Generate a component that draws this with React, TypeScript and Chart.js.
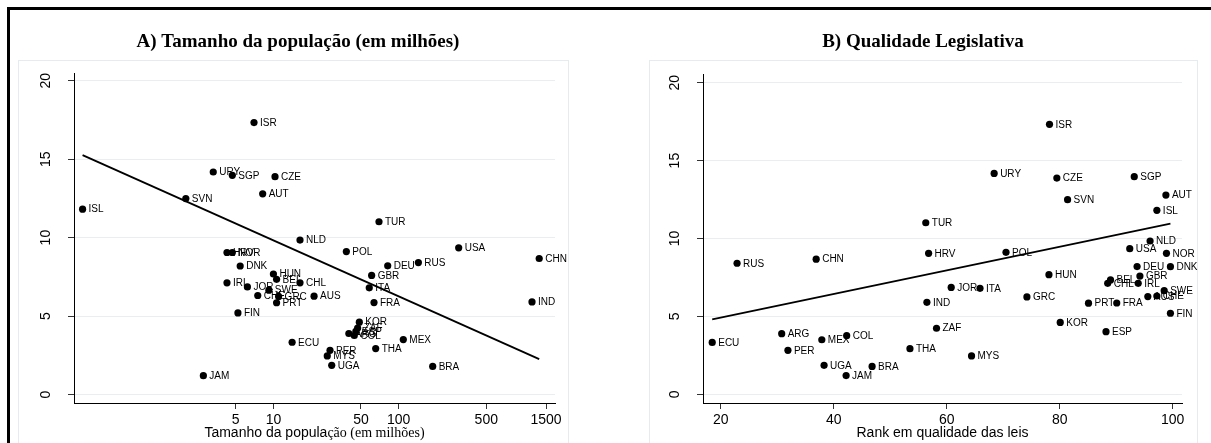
import React, { useEffect, useRef } from 'react';
import { Chart, registerables } from 'chart.js';

Chart.register(...registerables);

// ---------------- data ----------------
const countries = ['ISR','URY','CZE','SGP','AUT','SVN','ISL','TUR','NLD','USA','HRV','POL','NOR','DEU','DNK','RUS','CHN','HUN','GBR','BEL','CHL','IRL','JOR','ITA','SWE','AUS','CHE','GRC','IND','PRT','FRA','FIN','KOR','ZAF','ESP','ARG','COL','MEX','ECU','THA','PER','MYS','UGA','BRA','JAM'];
const quality = [17.33,14.18,13.88,13.97,12.79,12.49,11.81,11.01,9.84,9.35,9.05,9.11,9.05,8.2,8.19,8.41,8.67,7.68,7.59,7.34,7.12,7.12,6.86,6.8,6.65,6.27,6.31,6.25,5.9,5.85,5.86,5.2,4.61,4.24,4.02,3.89,3.76,3.5,3.33,2.93,2.82,2.46,1.86,1.79,1.2];
const population = [7.0,3.31,10.3,4.7,8.21,2.0,0.30,69.6,16.3,301,4.26,38.2,4.7,81.7,5.43,143.5,1322,10.0,60.8,10.6,16.3,4.26,6.2,58.2,9.2,21.1,7.5,11.0,1158,10.6,63.5,5.21,48.5,47,45.5,40,44.2,108.8,14.1,65.5,28.3,26.9,29.2,186.7,2.76];
const lawRank = [78.2,68.4,79.5,93.2,98.8,81.4,97.2,56.3,96.0,92.4,56.8,70.5,98.9,93.7,99.6,22.9,36.9,78.1,94.2,89.0,88.5,93.9,60.8,65.9,98.5,95.6,97.2,74.2,56.5,85.1,90.1,99.6,80.1,58.2,88.2,30.8,42.3,37.9,18.5,53.5,31.9,64.4,38.3,46.8,42.2];
const fitPopX = [0.30, 1322];
const fitPopY = [15.26, 2.26];
const fitRankX = [18.5, 99.6];
const fitRankY = [4.81, 10.95];
const yTicks = [0, 5, 10, 15, 20];
const popTicks = [5, 10, 50, 100, 500, 1500];
const rankTicks = [20, 40, 60, 80, 100];
const titleA = 'A) Tamanho da população (em milhões)';
const titleB = 'B) Qualidade Legislativa';
const xTitleA = ['Tamanho da popula', 'ção (em milhões)'];
const xTitleB = 'Rank em qualidade das leis';

const SANS = '"Liberation Sans", Arial, sans-serif';
const SERIF = '"Liberation Serif", "Times New Roman", serif';

const textPlugin = {
  id: 'stataText',
  afterDraw(chart: any, _args: any, o: any) {
    const ctx = chart.ctx;
    const xs = chart.scales.x;
    const ys = chart.scales.y;
    const area = chart.chartArea;
    ctx.save();
    ctx.fillStyle = '#000';
    // marker labels
    ctx.font = `10px ${SANS}`;
    ctx.textAlign = 'left';
    ctx.textBaseline = 'middle';
    const meta = chart.getDatasetMeta(0);
    meta.data.forEach((el: any, i: number) => ctx.fillText(o.labels[i], el.x + 6, el.y + 0.5));
    // y tick labels (vertical)
    ctx.font = `14px ${SANS}`;
    ctx.textAlign = 'center';
    o.yTicks.forEach((v: number) => {
      const y = ys.getPixelForValue(v);
      ctx.save();
      ctx.translate(area.left - 27.5, y);
      ctx.rotate(-Math.PI / 2);
      ctx.fillText(String(v), 0, 0);
      ctx.restore();
    });
    // x tick labels
    o.xTicks.forEach((v: number) => ctx.fillText(String(v), xs.getPixelForValue(v), area.bottom + 17.5));
    // x title
    const parts: [string, string][] = o.xTitle;
    let total = 0;
    parts.forEach((p) => { ctx.font = p[1]; total += ctx.measureText(p[0]).width; });
    let x = (area.left + area.right) / 2 - total / 2;
    ctx.textAlign = 'left';
    parts.forEach((p) => { ctx.font = p[1]; ctx.fillText(p[0], x, area.bottom + 30); x += ctx.measureText(p[0]).width; });
    // panel title
    ctx.font = `bold 19px ${SERIF}`;
    ctx.textAlign = 'center';
    ctx.fillText(o.title, o.titleX, o.titleY);
    ctx.restore();
  },
};

function makeConfig(opts: any): any {
  return {
    type: 'scatter',
    data: {
      datasets: [
        {
          data: opts.xs.map((x: number, i: number) => ({ x, y: quality[i] })),
          pointRadius: 3.6,
          pointHoverRadius: 3.6,
          pointBackgroundColor: '#000',
          pointBorderWidth: 0,
          borderWidth: 0,
        },
        {
          type: 'line',
          data: opts.fitX.map((x: number, i: number) => ({ x, y: opts.fitY[i] })),
          borderColor: '#000',
          borderWidth: 1.8,
          pointRadius: 0,
          showLine: true,
          fill: false,
        },
      ],
    },
    options: {
      responsive: false,
      animation: false,
      events: [],
      layout: { padding: { left: 0, top: opts.top, right: opts.right, bottom: 0 } },
      plugins: {
        legend: { display: false },
        tooltip: { enabled: false },
        title: { display: false },
        stataText: {
          labels: countries,
          yTicks,
          xTicks: opts.xTicks,
          xTitle: opts.xTitle,
          title: opts.title,
          titleX: opts.titleX,
          titleY: opts.titleY,
        },
      },
      scales: {
        x: {
          type: opts.xType,
          min: opts.xMin,
          max: opts.xMax,
          bounds: 'data',
          afterBuildTicks: (s: any) => { s.ticks = opts.xTicks.map((v: number) => ({ value: v })); },
          afterFit: (s: any) => { s.height = 40; },
          ticks: { display: false },
          grid: { drawOnChartArea: false, drawTicks: true, tickLength: 6, tickColor: '#333', lineWidth: 1 },
          border: { display: true, color: '#000', width: 1 },
        },
        y: {
          type: 'linear',
          min: opts.yMin,
          max: opts.yMax,
          bounds: 'data',
          afterBuildTicks: (s: any) => { s.ticks = yTicks.map((v) => ({ value: v })); },
          afterFit: (s: any) => { s.width = opts.left; },
          ticks: { display: false },
          grid: { color: '#e8eff1', drawTicks: true, tickLength: 6, tickColor: '#333', lineWidth: 1 },
          border: { display: true, color: '#000', width: 1 },
        },
      },
    },
    plugins: [textPlugin],
  };
}

export default function App() {
  const refA = useRef<HTMLCanvasElement>(null);
  const refB = useRef<HTMLCanvasElement>(null);
  useEffect(() => {
    const a = new Chart(refA.current as HTMLCanvasElement, makeConfig({
      xs: population, fitX: fitPopX, fitY: fitPopY,
      xType: 'logarithmic', xMin: 0.2562, xMax: 1767, xTicks: popTicks,
      yMin: -0.54, yMax: 20.49, left: 74, top: 73, right: 50,
      xTitle: [[xTitleA[0], `14px ${SANS}`], [xTitleA[1], `14px ${SERIF}`]],
      title: titleA, titleX: 298, titleY: 42,
    }));
    const b = new Chart(refB.current as HTMLCanvasElement, makeConfig({
      xs: lawRank, fitX: fitRankX, fitY: fitRankY,
      xType: 'linear', xMin: 16.87, xMax: 101.65, xTicks: rankTicks,
      yMin: -0.56, yMax: 20.56, left: 98, top: 74, right: 29,
      xTitle: [[xTitleB, `14px ${SANS}`]],
      title: titleB, titleX: 318, titleY: 42,
    }));
    return () => { a.destroy(); b.destroy(); };
  }, []);
  return (
    <div style={{ position: 'absolute', left: 0, top: 0, width: 1211, height: 443, background: '#fff', overflow: 'hidden' }}>
      <div style={{ position: 'absolute', left: 7, top: 7, right: 0, bottom: 0, borderLeft: '3px solid #000', borderTop: '3px solid #000' }} />
      <div style={{ position: 'absolute', left: 18, top: 60, width: 551, height: 420, boxSizing: 'border-box', border: '1px solid #e4ecef' }} />
      <div style={{ position: 'absolute', left: 649, top: 60, width: 549, height: 420, boxSizing: 'border-box', border: '1px solid #e4ecef' }} />
      <canvas ref={refA} width={605} height={443} style={{ position: 'absolute', left: 0, top: 0 }} />
      <canvas ref={refB} width={606} height={443} style={{ position: 'absolute', left: 605, top: 0 }} />
    </div>
  );
}
